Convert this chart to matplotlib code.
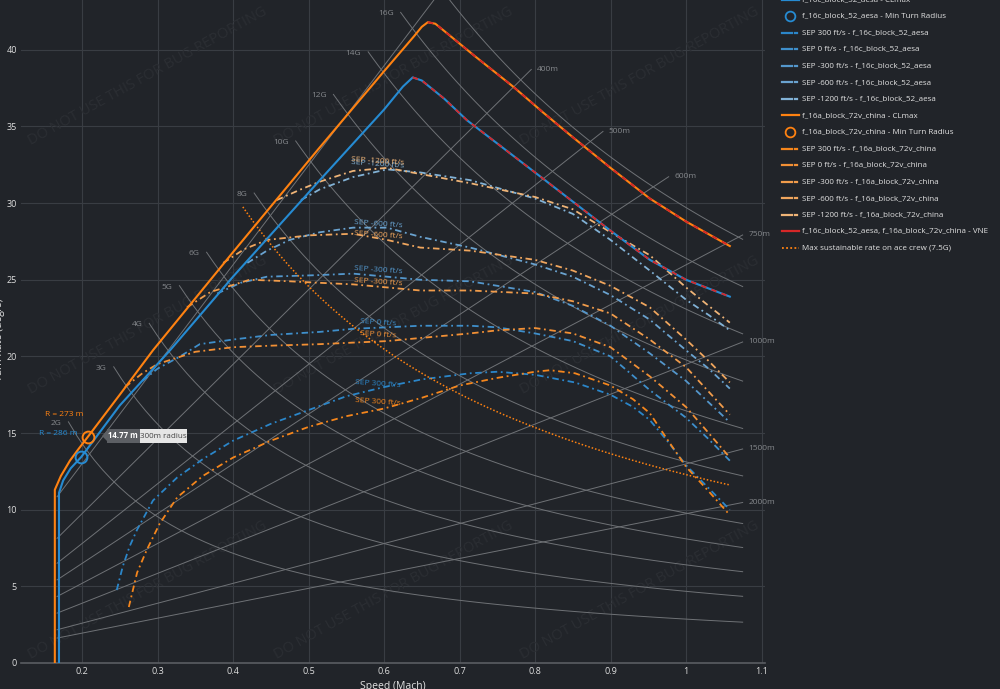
"""Diagramme EM : taux de virage vs Mach, F-16C block 52 vs F-16A block 72V."""
import numpy as np
import matplotlib
matplotlib.use("Agg")
import matplotlib.pyplot as plt
import matplotlib.transforms as mtransforms
from matplotlib.patches import Rectangle, Polygon
from matplotlib.lines import Line2D

plt.rcParams["font.family"] = ["Open Sans", "DejaVu Sans"]

# --- Constantes des abaques ---
A_SON = 340.0   # vitesse du son (m/s)
G0 = 9.81
MACH_GUIDE_MIN = 0.167
MACH_GUIDE_MAX = 1.075

G_LEVELS = [2, 3, 4, 5, 6, 8, 10, 12, 14, 16, 18]
G_START = [0.182, 0.242, 0.289, 0.329, 0.365, 0.428, 0.483, 0.533, 0.579, 0.622, 0.662]
RADII = [300, 400, 500, 600, 750, 1000, 1500, 2000]
R_END = [0.69, 0.795, 0.89, 0.977, 1.075, 1.075, 1.075, 1.075]
SUSTAIN_G = 7.5
SUSTAIN_MACH = [0.413, 1.058]

# --- f_16c_block_52_aesa ---
c16_cl_m = [0.1695, 0.1695, 0.175, 0.185, 0.199, 0.25, 0.3166, 0.4, 0.515, 0.6, 0.625,
            0.638, 0.65, 0.68, 0.71, 0.8, 0.9, 0.952, 1.0, 1.058]
c16_cl_w = [0, 11.1, 11.9, 12.7, 13.44, 16.8, 20.4, 25.2, 31.5, 36.1, 37.6,
            38.2, 38.0, 36.8, 35.4, 32.0, 28.2, 26.3, 25.0, 23.9]
c16_peak = 11
c16_minr = (0.199, 13.44)

c16_sep300_m = [0.246, 0.254, 0.263, 0.273, 0.294, 0.326, 0.36, 0.4, 0.45, 0.5, 0.55, 0.6,
                0.65, 0.714, 0.75, 0.8, 0.853, 0.9, 0.93, 0.952, 0.975, 1.0, 1.03, 1.058]
c16_sep300_w = [4.76, 6.3, 7.6, 8.7, 10.6, 12.1, 13.3, 14.5, 15.6, 16.5, 17.4, 18.0,
                18.5, 18.9, 19.0, 18.8, 18.3, 17.5, 16.7, 15.85, 14.5, 12.9, 11.4, 10.0]
c16_sep0_m = [0.28, 0.3, 0.33, 0.356, 0.4, 0.45, 0.515, 0.559, 0.604, 0.648, 0.714,
              0.75, 0.8, 0.85, 0.9, 0.952, 1.0, 1.03, 1.058]
c16_sep0_w = [18.4, 19.2, 20.0, 20.8, 21.1, 21.4, 21.6, 21.8, 21.9, 22.0, 22.0,
              21.9, 21.5, 21.0, 20.0, 17.8, 16.0, 14.6, 13.2]
c16_sepm300_m = [0.379, 0.41, 0.445, 0.511, 0.559, 0.604, 0.648, 0.714, 0.8, 0.85,
                 0.9, 0.952, 1.0, 1.03, 1.058]
c16_sepm300_w = [24.1, 24.8, 25.2, 25.3, 25.4, 25.2, 25.0, 24.9, 24.2, 23.3,
                 22.0, 20.2, 18.4, 17.0, 15.7]
c16_sepm600_m = [0.419, 0.445, 0.475, 0.515, 0.559, 0.604, 0.648, 0.714, 0.8, 0.85,
                 0.9, 0.952, 1.0, 1.03, 1.058]
c16_sepm600_w = [26.1, 26.9, 27.6, 28.1, 28.4, 28.4, 27.8, 27.1, 26.0, 25.2,
                 24.0, 22.4, 20.4, 19.2, 17.9]
c16_sepm1200_m = [0.49, 0.515, 0.559, 0.604, 0.648, 0.714, 0.8, 0.85, 0.9, 0.952,
                  1.0, 1.03, 1.058]
c16_sepm1200_w = [30.2, 30.9, 31.7, 32.2, 32.0, 31.5, 30.3, 29.3, 27.6, 25.6,
                  23.7, 22.7, 21.7]

# --- f_16a_block_72v_china ---
a16_cl_m = [0.164, 0.164, 0.172, 0.184, 0.196, 0.208, 0.25, 0.294, 0.4, 0.5126, 0.6,
            0.64, 0.65, 0.658, 0.668, 0.678, 0.72, 0.771, 0.811, 0.85, 0.9, 0.952, 1.0, 1.058]
a16_cl_w = [0, 11.3, 12.2, 13.2, 14.0, 14.77, 17.5, 20.4, 26.8, 33.5, 38.6,
            40.9, 41.5, 41.8, 41.7, 41.3, 39.6, 37.6, 35.9, 34.3, 32.3, 30.3, 28.8, 27.2]
a16_peak = 13
a16_minr = (0.208, 14.77)

a16_sep300_m = [0.262, 0.273, 0.286, 0.303, 0.326, 0.36, 0.4, 0.45, 0.5, 0.55, 0.6,
                0.65, 0.7, 0.75, 0.8, 0.82, 0.853, 0.9, 0.93, 0.952, 0.975, 1.0, 1.03, 1.058]
a16_sep300_w = [3.65, 5.9, 7.4, 9.1, 10.8, 12.2, 13.4, 14.5, 15.4, 16.1, 16.6,
                17.3, 18.1, 18.6, 19.0, 19.1, 18.9, 18.1, 17.2, 16.3, 14.6, 12.8, 11.2, 9.65]
a16_sep0_m = [0.257, 0.28, 0.3, 0.35, 0.4, 0.45, 0.515, 0.559, 0.604, 0.648, 0.714,
              0.75, 0.8, 0.85, 0.9, 0.952, 1.0, 1.03, 1.058]
a16_sep0_w = [18.0, 18.9, 19.5, 20.3, 20.6, 20.7, 20.8, 20.9, 21.0, 21.2, 21.5,
              21.7, 21.85, 21.5, 20.6, 18.7, 16.7, 15.0, 13.4]
a16_sepm300_m = [0.339, 0.37, 0.422, 0.475, 0.515, 0.559, 0.604, 0.648, 0.714, 0.8,
                 0.85, 0.9, 0.952, 1.0, 1.03, 1.058]
a16_sepm300_w = [23.2, 24.2, 25.0, 24.9, 24.8, 24.7, 24.5, 24.3, 24.3, 24.1,
                 23.6, 22.8, 21.1, 19.3, 17.7, 16.2]
a16_sepm600_m = [0.387, 0.415, 0.445, 0.502, 0.559, 0.604, 0.648, 0.714, 0.8, 0.85,
                 0.9, 0.952, 1.0, 1.03, 1.058]
a16_sepm600_w = [26.1, 27.0, 27.6, 27.9, 28.0, 27.6, 27.1, 26.9, 26.3, 25.6,
                 24.6, 23.2, 21.1, 19.7, 18.3]
a16_sepm1200_m = [0.458, 0.49, 0.515, 0.559, 0.604, 0.648, 0.714, 0.8, 0.85, 0.9,
                  0.952, 1.0, 1.03, 1.058]
a16_sepm1200_w = [30.2, 30.9, 31.4, 32.1, 32.3, 31.9, 31.3, 30.4, 29.6, 28.1,
                  26.6, 24.5, 23.3, 22.2]

SEP_NAMES = ["300", "0", "-300", "-600", "-1200"]

# --- Style ---
BG = "#212429"
GRID = "#393d43"
GUIDE = "#6f7276"
GUIDE_TXT = "#85888c"
TXT = "#e2e2e2"
BLUE = "#268bd2"
ORANGE = "#ff8211"
RED = "#d62728"
BLUE_SEP = ["#2b86c9", "#3f8fcb", "#5497cc", "#6aa3d0", "#82b2d6"]
ORANGE_SEP = ["#f5861c", "#f29035", "#f19c4b", "#f0a65e", "#efb477"]
DASHDOT = (0, (3.6, 2.0, 1.0, 2.0))
D2R = 180.0 / np.pi

fig = plt.figure(figsize=(10, 6.89), dpi=100, facecolor=BG)
# coordonnees pixels depuis le coin haut-gauche
PX = mtransforms.Affine2D().scale(1 / 1000, -1 / 689).translate(0, 1) + fig.transFigure

ax = fig.add_axes([0.021, 26 / 689, 0.744, 663 / 689])
ax.set_facecolor(BG)
ax.set_xlim(0.1192, 1.1046)
ax.set_ylim(0, 43.25)
ax.set_xticks([0.2, 0.3, 0.4, 0.5, 0.6, 0.7, 0.8, 0.9, 1.0, 1.1])
ax.set_xticklabels(["0.2", "0.3", "0.4", "0.5", "0.6", "0.7", "0.8", "0.9", "1", "1.1"])
ax.set_yticks(range(0, 45, 5))
ax.tick_params(length=0, labelsize=6.5, labelcolor="#dedede", pad=3)
ax.grid(color=GRID, lw=0.8, zorder=0)
ax.set_axisbelow(True)
for s in ["top", "right", "left"]:
    ax.spines[s].set_visible(False)
ax.spines["bottom"].set_color("#5a5d62")
ax.spines["bottom"].set_linewidth(1.2)

# filigrane
for cy in [76, 325, 590]:
    for cx in [148, 394, 640]:
        ax.text(cx, cy, "DO NOT USE THIS FOR BUG REPORTING", transform=PX,
                rotation=29, ha="center", va="center", fontsize=10.5,
                color="#2b2e33", zorder=0.6, clip_on=True)

# lignes de facteur de charge
for n, m0 in zip(G_LEVELS, G_START):
    m = np.linspace(m0, MACH_GUIDE_MAX, 80)
    w = G0 * np.sqrt(n ** 2 - 1) / (m * A_SON) * D2R
    ax.plot(m, w, color=GUIDE, lw=0.7, zorder=1)
    ax.annotate(f"{n}G", (m[0], w[0]), xytext=(-5, -1), textcoords="offset points",
                ha="right", va="center", fontsize=6, color=GUIDE_TXT,
                annotation_clip=True)

# lignes de rayon constant
for r, m1 in zip(RADII, R_END):
    m = np.array([MACH_GUIDE_MIN, m1])
    w = m * A_SON / r * D2R
    ax.plot(m, w, color=GUIDE, lw=0.7, zorder=1)
    ax.annotate(f"{r}m", (m[1], w[1]), xytext=(4, 0), textcoords="offset points",
                ha="left", va="center", fontsize=6, color=GUIDE_TXT,
                annotation_clip=True)

# courbes SEP
c16_seps = [(c16_sep300_m, c16_sep300_w), (c16_sep0_m, c16_sep0_w),
            (c16_sepm300_m, c16_sepm300_w), (c16_sepm600_m, c16_sepm600_w),
            (c16_sepm1200_m, c16_sepm1200_w)]
a16_seps = [(a16_sep300_m, a16_sep300_w), (a16_sep0_m, a16_sep0_w),
            (a16_sepm300_m, a16_sepm300_w), (a16_sepm600_m, a16_sepm600_w),
            (a16_sepm1200_m, a16_sepm1200_w)]
for (m, w), col in zip(c16_seps, BLUE_SEP):
    ax.plot(m, w, color=col, lw=1.3, ls=DASHDOT, zorder=3)
for (m, w), col in zip(a16_seps, ORANGE_SEP):
    ax.plot(m, w, color=col, lw=1.3, ls=DASHDOT, zorder=3)

# etiquettes SEP (position du texte)
c16_lbl_y = [18.2, 22.2, 25.6, 28.6, 32.5]
a16_lbl_y = [17.0, 21.4, 24.85, 27.9, 32.75]
for name, y, col in zip(SEP_NAMES, c16_lbl_y, BLUE_SEP):
    ax.text(0.592, y, f"SEP {name} ft/s", ha="center", va="center", fontsize=6,
            color=col, rotation=-4, zorder=4)
for name, y, col in zip(SEP_NAMES, a16_lbl_y, ORANGE_SEP):
    ax.text(0.592, y, f"SEP {name} ft/s", ha="center", va="center", fontsize=6,
            color=col, rotation=-4, zorder=4)

# max soutenu 7.5G
m = np.linspace(SUSTAIN_MACH[0], SUSTAIN_MACH[1], 80)
ax.plot(m, G0 * np.sqrt(SUSTAIN_G ** 2 - 1) / (m * A_SON) * D2R, color=ORANGE,
        lw=1.1, ls=(0, (1, 1.3)), zorder=3)

# enveloppes CLmax + VNE
ax.plot(c16_cl_m, c16_cl_w, color=BLUE, lw=1.5, zorder=5)
ax.plot(a16_cl_m, a16_cl_w, color=ORANGE, lw=1.5, zorder=5)
ax.plot(c16_cl_m[c16_peak:], c16_cl_w[c16_peak:], color=RED, lw=1.3,
        ls=(0, (3, 3)), zorder=6)
ax.plot(a16_cl_m[a16_peak:], a16_cl_w[a16_peak:], color=RED, lw=1.3,
        ls=(0, (3, 3)), zorder=6)

# rayon mini
ax.plot(*c16_minr, "o", ms=8.5, mfc="none", mec=BLUE, mew=1.4, zorder=7)
ax.plot(*a16_minr, "o", ms=8.5, mfc="none", mec=ORANGE, mew=1.4, zorder=7)
ax.text(0.176, 16.18, "R = 273 m", ha="center", va="center", fontsize=6,
        color=ORANGE, zorder=7)
ax.text(0.168, 14.94, "R = 286 m", ha="center", va="center", fontsize=6,
        color=BLUE, zorder=7)

# info-bulle de survol
fig.add_artist(Polygon([(107, 431), (102, 436), (107, 441)], closed=True,
                       transform=PX, facecolor="#5c5f64", edgecolor="none"))
fig.add_artist(Rectangle((107, 429), 33, 14, transform=PX, facecolor="#5c5f64",
                         edgecolor="none"))
fig.add_artist(Rectangle((140, 429), 47, 14, transform=PX, facecolor="#e6e6e6",
                         edgecolor="none"))
fig.text(123, 436, "14.77 m", transform=PX, ha="center", va="center",
         fontsize=5.6, color="white", fontweight="bold")
fig.text(163, 436, "300m radius", transform=PX, ha="center", va="center",
         fontsize=5.8, color="#444444")

# titres d'axes (coupes par le cadrage)
fig.text(0.393, 0.003, "Speed (Mach)", ha="center", va="center", fontsize=7.5,
         color=TXT)
fig.text(0.0, 0.507, "Turn Rate (deg/s)", ha="center", va="center", fontsize=7.5,
         color=TXT, rotation=90)

# legende
legend_items = [
    ("f_16c_block_52_aesa - CLmax", "line", BLUE),
    ("f_16c_block_52_aesa - Min Turn Radius", "marker", BLUE),
] + [(f"SEP {s} ft/s - f_16c_block_52_aesa", "sep", c) for s, c in zip(SEP_NAMES, BLUE_SEP)] + [
    ("f_16a_block_72v_china - CLmax", "line", ORANGE),
    ("f_16a_block_72v_china - Min Turn Radius", "marker", ORANGE),
] + [(f"SEP {s} ft/s - f_16a_block_72v_china", "sep", c) for s, c in zip(SEP_NAMES, ORANGE_SEP)] + [
    ("f_16c_block_52_aesa, f_16a_block_72v_china - VNE", "line", RED),
    ("Max sustainable rate on ace crew (7.5G)", "dot", ORANGE),
]
for i, (label, kind, col) in enumerate(legend_items):
    y = -0.5 + i * 16.57
    if kind == "marker":
        fig.add_artist(Line2D([790], [y], transform=PX, marker="o", ms=7,
                              mfc="none", mec=col, mew=1.3, ls="none"))
    elif kind == "sep":
        fig.add_artist(Line2D([782, 792], [y, y], transform=PX, color=col, lw=1.6))
        fig.add_artist(Line2D([795, 797], [y, y], transform=PX, color=col, lw=1.6))
    elif kind == "dot":
        fig.add_artist(Line2D([782, 799], [y, y], transform=PX, color=col, lw=1.3,
                              ls=(0, (1, 1.3))))
    else:
        fig.add_artist(Line2D([782, 799], [y, y], transform=PX, color=col, lw=1.6))
    fig.text(802, y, label, transform=PX, ha="left", va="center", fontsize=5.8,
             color=TXT)

fig.savefig("out.png", dpi=100, facecolor=BG)
